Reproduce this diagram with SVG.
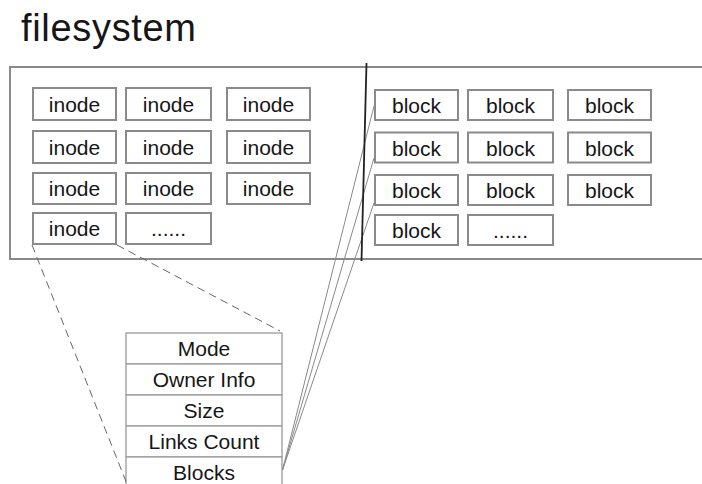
<svg xmlns="http://www.w3.org/2000/svg" width="702" height="484" viewBox="0 0 702 484">
<style>
text{font-family:"Liberation Sans",Arial,sans-serif;fill:#161616;text-anchor:middle}
.cell{fill:#fff;stroke:#8a8a8a;stroke-width:2}
.lbl{font-size:21px}
.row{fill:#fff;stroke:#9a9a9a;stroke-width:1.3}
.dash{fill:none;stroke:#666;stroke-width:1;stroke-dasharray:8 5}
.fan{fill:none;stroke:#8a8a8a;stroke-width:1}
</style>
<rect width="702" height="484" fill="#fff"/>
<text x="21" y="41" style="font-size:38px;text-anchor:start" textLength="175" lengthAdjust="spacing">filesystem</text>
<g id="filesystem"><rect x="10" y="67" width="702" height="192" fill="none" stroke="#8a8a8a" stroke-width="2"/></g>
<g id="inodes">
<g id="inode-1"><rect class="cell" x="33" y="88" width="83" height="32"/><text class="lbl" x="74.5" y="112">inode</text></g>
<g id="inode-2"><rect class="cell" x="126" y="88" width="85" height="32"/><text class="lbl" x="168.5" y="112">inode</text></g>
<g id="inode-3"><rect class="cell" x="227" y="88" width="83" height="32"/><text class="lbl" x="268.5" y="112">inode</text></g>
<g id="inode-4"><rect class="cell" x="33" y="131" width="83" height="32"/><text class="lbl" x="74.5" y="155">inode</text></g>
<g id="inode-5"><rect class="cell" x="126" y="131" width="85" height="32"/><text class="lbl" x="168.5" y="155">inode</text></g>
<g id="inode-6"><rect class="cell" x="227" y="131" width="83" height="32"/><text class="lbl" x="268.5" y="155">inode</text></g>
<g id="inode-7"><rect class="cell" x="33" y="173" width="83" height="31"/><text class="lbl" x="74.5" y="196">inode</text></g>
<g id="inode-8"><rect class="cell" x="126" y="173" width="85" height="31"/><text class="lbl" x="168.5" y="196">inode</text></g>
<g id="inode-9"><rect class="cell" x="227" y="173" width="83" height="31"/><text class="lbl" x="268.5" y="196">inode</text></g>
<g id="inode-10"><rect class="cell" x="33" y="213" width="83" height="31"/><text class="lbl" x="74.5" y="236">inode</text></g>
<g id="inode-more"><rect class="cell" x="126" y="213" width="85" height="31"/><text class="lbl" x="168.5" y="236">......</text></g>
</g>
<g id="blocks">
<g id="block-1"><rect class="cell" x="375" y="90" width="83" height="30"/><text class="lbl" x="416.5" y="113">block</text></g>
<g id="block-2"><rect class="cell" x="468" y="90" width="85" height="30"/><text class="lbl" x="510.5" y="113">block</text></g>
<g id="block-3"><rect class="cell" x="568" y="90" width="83" height="30"/><text class="lbl" x="609.5" y="113">block</text></g>
<g id="block-4"><rect class="cell" x="375" y="132.5" width="83" height="30"/><text class="lbl" x="416.5" y="155.5">block</text></g>
<g id="block-5"><rect class="cell" x="468" y="132.5" width="85" height="30"/><text class="lbl" x="510.5" y="155.5">block</text></g>
<g id="block-6"><rect class="cell" x="568" y="132.5" width="83" height="30"/><text class="lbl" x="609.5" y="155.5">block</text></g>
<g id="block-7"><rect class="cell" x="375" y="175" width="83" height="30"/><text class="lbl" x="416.5" y="198">block</text></g>
<g id="block-8"><rect class="cell" x="468" y="175" width="85" height="30"/><text class="lbl" x="510.5" y="198">block</text></g>
<g id="block-9"><rect class="cell" x="568" y="175" width="83" height="30"/><text class="lbl" x="609.5" y="198">block</text></g>
<g id="block-10"><rect class="cell" x="375" y="215" width="83" height="30"/><text class="lbl" x="416.5" y="238">block</text></g>
<g id="block-more"><rect class="cell" x="468" y="215" width="85" height="30"/><text class="lbl" x="510.5" y="238">......</text></g>
</g>
<g id="inode-detail">
<rect class="row" x="126" y="333" width="156" height="31"/><text class="lbl" x="204" y="356">Mode</text>
<rect class="row" x="126" y="364" width="156" height="31"/><text class="lbl" x="204" y="387">Owner Info</text>
<rect class="row" x="126" y="395" width="156" height="31"/><text class="lbl" x="204" y="418">Size</text>
<rect class="row" x="126" y="426" width="156" height="31"/><text class="lbl" x="204" y="449">Links Count</text>
<rect class="row" x="126" y="457" width="156" height="40"/><text class="lbl" x="204" y="480">Blocks</text>
</g>
<g id="connectors">
<line class="dash" x1="32" y1="245" x2="127" y2="484"/>
<line class="dash" x1="117" y1="245" x2="280" y2="331"/>
<line class="fan" x1="282.5" y1="470" x2="374" y2="106"/>
<line class="fan" x1="282.5" y1="470" x2="374" y2="158"/>
<line class="fan" x1="282.5" y1="470" x2="374" y2="203"/>
<line x1="366.5" y1="63" x2="361.5" y2="261" stroke="#222" stroke-width="1.8"/>
</g>
</svg>
